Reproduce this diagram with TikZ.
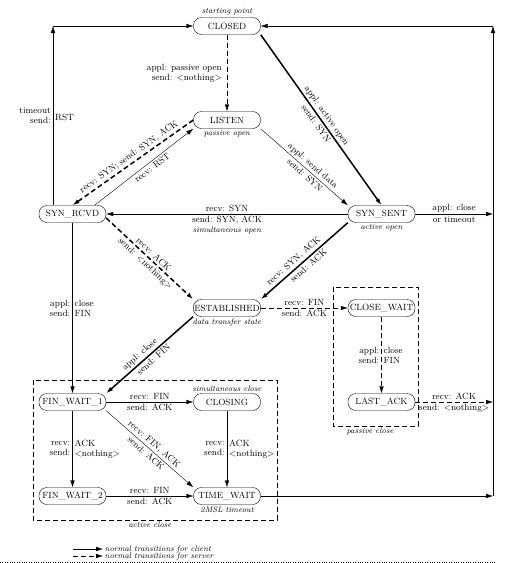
\documentclass[tikz,border=0pt]{standalone}
\usetikzlibrary{arrows.meta,positioning}

\begin{document}
\begin{tikzpicture}[x=1pt,y=-1pt,>={Latex[length=7pt,width=4.5pt]},
node distance=94pt and 154.5pt,on grid,
state/.style={draw,rounded corners=8pt,minimum width=67pt,minimum height=17pt,
inner xsep=1pt,inner ysep=1pt,font=\fontsize{9}{10}\selectfont},
lbl/.style={font=\fontsize{9}{10}\selectfont,inner sep=2pt},
note/.style={font=\fontsize{8}{9}\selectfont\itshape,inner sep=1.5pt},
client/.style={->,line width=1.5pt},
server/.style={->,line width=1.5pt,dash pattern=on 5pt off 3pt},
dsh/.style={dash pattern=on 5pt off 3pt},
grp/.style={draw,dash pattern=on 5pt off 3pt}]
\useasboundingbox (0,0) rectangle (507,563);
% states
\node[state] (closed) at (227,26) {CLOSED};
\node[state,below=of closed] (listen) {LISTEN};
\node[state,below left=of listen] (synrcvd) {SYN\_RCVD};
\node[state,below right=of listen] (synsent) {SYN\_SENT};
\node[state,below right=of synrcvd] (estab) {ESTABLISHED};
\node[state,right=of estab] (closewait) {CLOSE\_WAIT};
\node[state,below=of closewait] (lastack) {LAST\_ACK};
\node[state,below left=of estab] (finwait1) {FIN\_WAIT\_1};
\node[state,right=of finwait1] (closing) {CLOSING};
\node[state,below=of finwait1] (finwait2) {FIN\_WAIT\_2};
\node[state,below=of closing] (timewait) {TIME\_WAIT};
% notes
\node[note,above] (startpt) at (closed.north) {starting point};
\node[note,below] (passopen) at (listen.south) {passive open};
\node[note,below] (actopen) at (synsent.south) {active open};
\node[note,below] (datastate) at (estab.south) {data transfer state};
\node[note,above] (simclose) at (closing.north) {simultaneous close};
\node[note,below] (msl) at (timewait.south) {2MSL timeout};
% groups
\draw[grp] (33,380) rectangle (277,520);
\node[note,below] (actclose) at (150,520) {active close};
\draw[grp] (333,287) rectangle (418,426);
\node[note,below] (pasclose) at (370,426) {passive close};
% corners of the outer lines
\coordinate (lx) at (53,26);
\coordinate (rx) at (493,26);
% transitions
\draw[->,dsh] (closed) -- node[lbl,left,align=right,xshift=-3pt]{appl: passive open\\send: <nothing>} (listen);
\draw[client] (closed.south east) -- node[lbl,above,sloped]{appl: active open} node[lbl,below,sloped]{send: SYN} (synsent.north);
\draw[->] (listen.south east) -- node[lbl,above,sloped,pos=.55]{appl: send data} node[lbl,below,sloped,pos=.55]{send: SYN} (synsent.north west);
\draw[server] (listen.west) -- node[lbl,above,sloped]{recv: SYN; send: SYN, ACK} (synrcvd.north);
\draw[->] ([xshift=22pt]synrcvd.north) -- node[lbl,below,sloped,pos=.55]{recv: RST} (listen.south west);
\draw[->] (synsent) -- node[lbl,above]{recv: SYN} node[lbl,below,align=center]{send: SYN, ACK\\{\footnotesize\itshape simultaneous open}} (synrcvd);
\draw[server] ([yshift=-4pt]synrcvd.east) -- node[lbl,above,sloped]{recv: ACK} node[lbl,below,sloped]{send: <nothing>} (estab.north west);
\draw[client] (synsent.south west) -- node[lbl,above,sloped,pos=.57]{recv: SYN, ACK} node[lbl,below,sloped]{send: ACK} (estab.north east);
\draw[->] (synrcvd) -- node[lbl,left,align=right]{appl:\\send:} node[lbl,right,align=left]{close\\FIN} (finwait1);
\draw[->] (synrcvd.north -| lx) -- node[lbl,left,align=right]{timeout\\send:} node[lbl,right,align=left]{\mbox{}\\RST} (lx);
\draw[->] (lx) -- (closed);
\draw[client] (estab.south west) -- node[lbl,above,sloped,pos=.56]{appl: close} node[lbl,below,sloped]{send: FIN} (finwait1.north east);
\draw[->,dsh] (estab) -- node[lbl,above]{recv: FIN} node[lbl,below]{send: ACK} (closewait);
\draw[->,dsh] (closewait) -- node[lbl,left,align=right]{appl:\\send:} node[lbl,right,align=left]{close\\FIN} (lastack);
\draw[->,dsh] (lastack) -- node[lbl,above]{recv: ACK} node[lbl,below]{send: <nothing>} (lastack -| rx);
\draw[->] (synsent) -- node[lbl,above]{appl: close} node[lbl,below]{or timeout} (synsent -| rx);
\draw[->] (finwait1) -- node[lbl,above]{recv: FIN} node[lbl,below]{send: ACK} (closing);
\draw[->] (finwait1) -- node[lbl,left,align=right]{recv:\\send:} node[lbl,right,align=left]{ACK\\<nothing>} (finwait2);
\draw[->] (finwait1.south east) -- node[lbl,above,sloped]{recv: FIN, ACK} node[lbl,below,sloped]{send: ACK} (timewait.north west);
\draw[->] (closing) -- node[lbl,left,align=right]{recv:\\send:} node[lbl,right,align=left]{ACK\\<nothing>} (timewait);
\draw[->] (finwait2) -- node[lbl,above]{recv: FIN} node[lbl,below]{send: ACK} (timewait);
\draw[->] (timewait) -- (timewait -| rx);
\draw[->] (timewait -| rx) -- (rx);
\draw[->] (rx) -- (closed);
% legend
\node[note,right] (cli) at (103,549) {normal transitions for client};
\node[note,right] (srv) at (103,556) {normal transitions for server};
\coordinate (cl) at (73,549);
\coordinate (sl) at (73,556);
\draw[->] (cl) -- (cli);
\draw[->,dsh] (sl) -- (srv);
\coordinate (dl) at (0,562);
\coordinate (dr) at (495,562);
\draw[dotted] (dl) -- (dr);
\end{tikzpicture}
\end{document}
